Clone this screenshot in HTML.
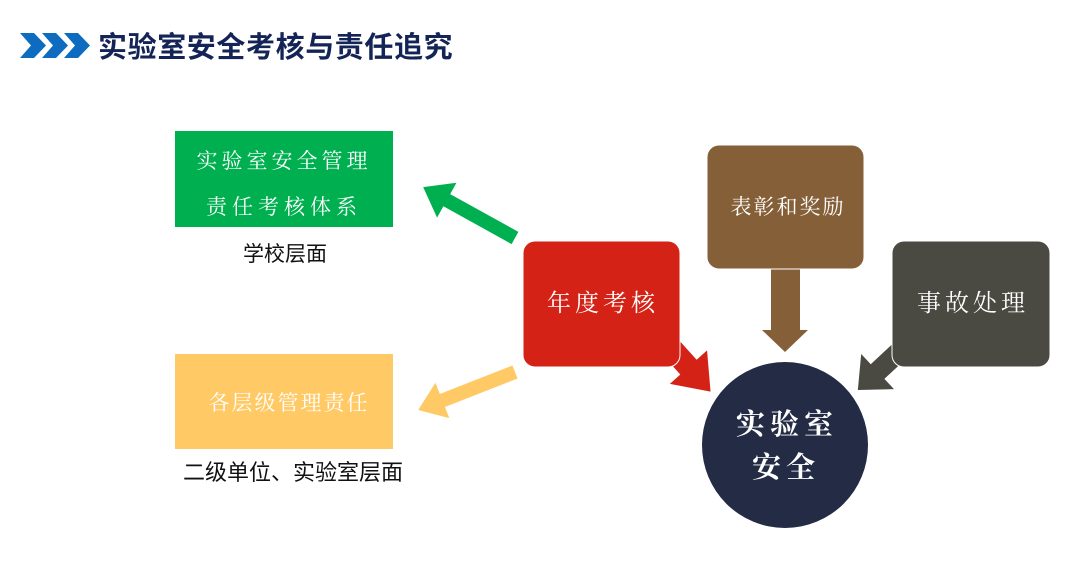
<!DOCTYPE html>
<html><head><meta charset="utf-8"><style>
html,body{margin:0;padding:0;background:#fff;}
body{width:1080px;height:562px;position:relative;overflow:hidden;font-family:"Liberation Sans","Noto Sans CJK SC",sans-serif;}
svg{position:absolute;left:0;top:0;}
</style></head><body>
<svg width="1080" height="562" viewBox="0 0 1080 562" font-family="Liberation Sans, Noto Sans CJK SC, sans-serif">
<g fill="#0d6cc0">
<polygon points="20,33 34,33 46,45.5 34,58 20,58 31,45.5"/>
<polygon points="42,33 56,33 68,45.5 56,58 42,58 53,45.5"/>
<polygon points="64,33 78,33 90,45.5 78,58 64,58 75,45.5"/>
</g>
<text x="98" y="57" font-size="29" font-weight="bold" fill="#152456" letter-spacing="0.6" font-family="Noto Sans CJK SC, sans-serif">实验室安全考核与责任追究</text>

<g transform="translate(515,238) rotate(209)" fill="#00b050">
<polygon points="0,-7 78,-7 78,-20 105,0 78,20 78,7 0,7"/>
</g>
<g transform="translate(515,372) rotate(158.6)" fill="#ffc966">
<polygon points="0,-7 78,-7 78,-19 104,0 78,19 78,7 0,7"/>
</g>
<g transform="translate(655,330) rotate(48)" fill="#d52216">
<polygon points="0,-11 50,-11 50,-25 83,0 50,25 50,11 0,11"/>
</g>
<polygon fill="#855f37" points="771,265 800,265 800,330 808,330 785,352 762,330 771,330"/>
<g transform="translate(920,332) rotate(137)" fill="#4a4a42">
<polygon points="0,-10 58,-10 58,-24 85,0 58,24 58,10 0,10"/>
</g>

<rect x="175" y="131" width="218" height="96" fill="#00b050"/>
<text x="284" y="168" font-size="21" fill="#fff" text-anchor="middle" letter-spacing="4" font-family="Noto Serif CJK SC, serif">实验室安全管理</text>
<text x="284" y="214" font-size="21" fill="#fff" text-anchor="middle" letter-spacing="5" font-family="Noto Serif CJK SC, serif">责任考核体系</text>
<text x="285" y="261" font-size="21" fill="#111" text-anchor="middle" font-family="Noto Sans CJK SC, sans-serif">学校层面</text>

<rect x="175" y="354" width="218" height="95" fill="#ffc966"/>
<text x="289" y="410" font-size="21" fill="#fff" text-anchor="middle" letter-spacing="2" font-family="Noto Serif CJK SC, serif">各层级管理责任</text>
<text x="293" y="480" font-size="22" fill="#111" text-anchor="middle" font-family="Noto Sans CJK SC, sans-serif">二级单位、实验室层面</text>

<rect x="523" y="241" width="157" height="126" rx="12" fill="#d52216" stroke="#fff" stroke-width="1"/>
<text x="603" y="311" font-size="24" fill="#fff" text-anchor="middle" letter-spacing="4" font-family="Noto Serif CJK SC, serif">年度考核</text>

<rect x="707" y="145" width="157" height="124" rx="12" fill="#855f37" stroke="#fff" stroke-width="1"/>
<text x="788" y="214" font-size="21" fill="#fff" text-anchor="middle" letter-spacing="2" font-family="Noto Serif CJK SC, serif">表彰和奖励</text>

<rect x="892" y="241" width="158" height="126" rx="12" fill="#4a4a42" stroke="#fff" stroke-width="1"/>
<text x="973" y="311" font-size="24" fill="#fff" text-anchor="middle" letter-spacing="4" font-family="Noto Serif CJK SC, serif">事故处理</text>

<circle cx="785" cy="445" r="83" fill="#232b45"/>
<text x="787" y="434" font-size="29" font-weight="bold" fill="#fff" text-anchor="middle" letter-spacing="5" font-family="Noto Serif CJK SC, serif">实验室</text>
<text x="786" y="477" font-size="29" font-weight="bold" fill="#fff" text-anchor="middle" letter-spacing="5" font-family="Noto Serif CJK SC, serif">安全</text>
</svg>
</body></html>
